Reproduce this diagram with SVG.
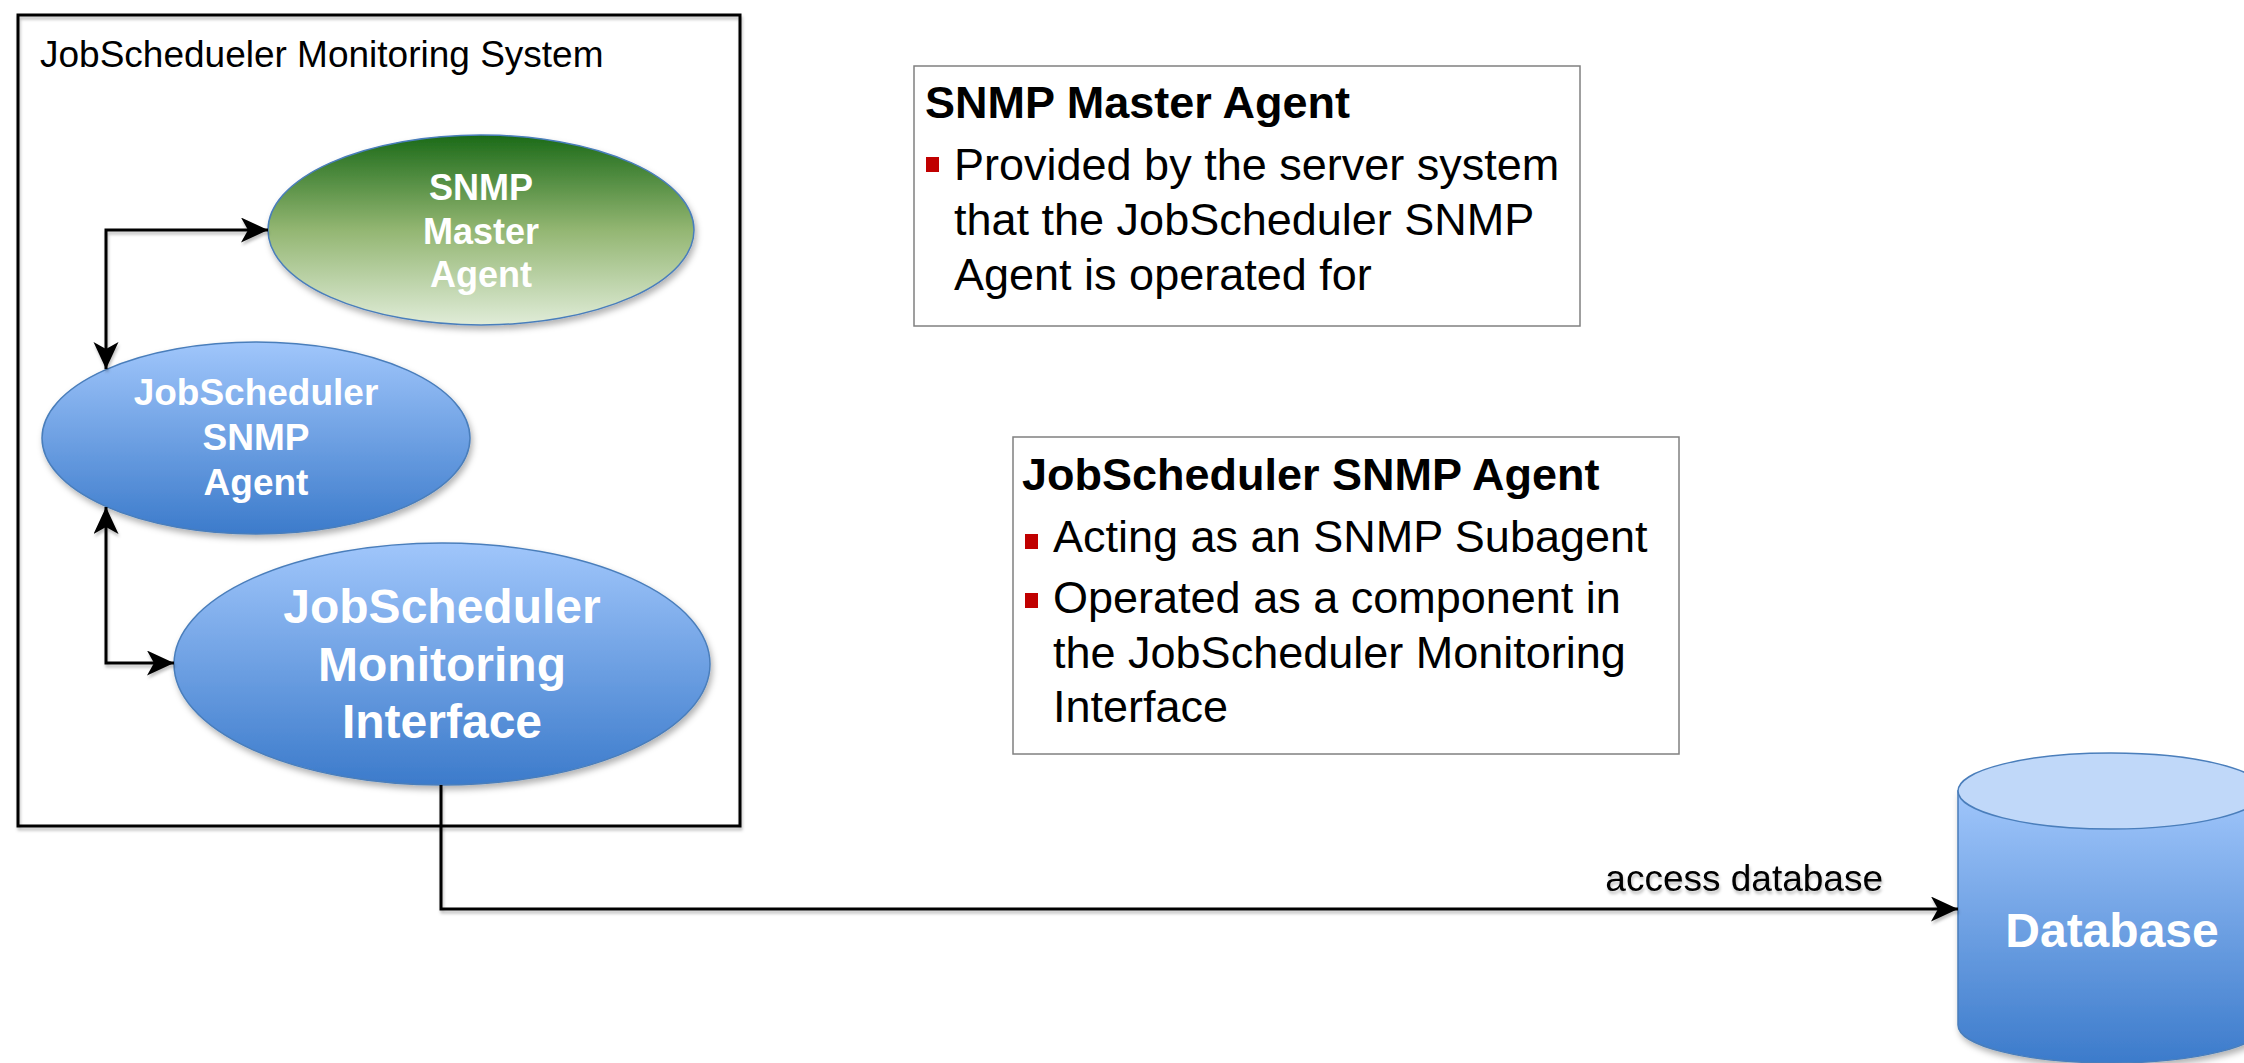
<svg xmlns="http://www.w3.org/2000/svg" width="2244" height="1063" viewBox="0 0 2244 1063">
<defs>
<linearGradient id="gGreen" x1="0" y1="0" x2="0" y2="1">
<stop offset="0" stop-color="#1b6a18"/>
<stop offset="0.5" stop-color="#93b672"/>
<stop offset="1" stop-color="#e0ecd8"/>
</linearGradient>
<linearGradient id="gBlue" x1="0" y1="0" x2="0" y2="1">
<stop offset="0" stop-color="#a0c6fb"/>
<stop offset="1" stop-color="#3c7bcb"/>
</linearGradient>
<filter id="shadow" x="-10%" y="-10%" width="130%" height="130%">
<feDropShadow dx="2" dy="4" stdDeviation="3" flood-color="#000" flood-opacity="0.3"/>
</filter>
<filter id="lshadow" x="-5%" y="-5%" width="110%" height="110%">
<feDropShadow dx="1" dy="3" stdDeviation="1.5" flood-color="#000" flood-opacity="0.25"/>
</filter>
<marker id="arr" markerUnits="userSpaceOnUse" markerWidth="28" markerHeight="26" refX="27" refY="12.5" orient="auto-start-reverse">
<path d="M0,0 L27,12.5 L0,25 L7,12.5 Z" fill="#000"/>
</marker>
</defs>
<style>
.node{stroke:#4a7ebb;stroke-width:1.5}
.wt{font-family:"Liberation Sans",Arial,sans-serif;font-weight:bold;fill:#fff;text-anchor:middle}
.bt{font-family:"Liberation Sans",Arial,sans-serif;fill:#000}
.box{fill:#fff;stroke:#808080;stroke-width:1.5}
.bul{fill:#c00000}
.conn{fill:none;stroke:#000;stroke-width:3}
</style>
<rect width="2244" height="1063" fill="#fff"/>

<g id="system">
<rect x="18" y="15" width="722" height="811" fill="none" stroke="#000" stroke-width="3" filter="url(#lshadow)"/>
<text class="bt" x="40" y="67" font-size="37">JobSchedueler Monitoring System</text>
</g>

<g id="snmp-master-agent">
<ellipse class="node" cx="481" cy="230" rx="213" ry="95" fill="url(#gGreen)" filter="url(#shadow)"/>
<text class="wt" font-size="36"><tspan x="481" y="200">SNMP</tspan><tspan x="481" y="244">Master</tspan><tspan x="481" y="287">Agent</tspan></text>
</g>

<g id="jobscheduler-snmp-agent">
<ellipse class="node" cx="256" cy="438" rx="214" ry="96" fill="url(#gBlue)" filter="url(#shadow)"/>
<text class="wt" font-size="37"><tspan x="256" y="405">JobScheduler</tspan><tspan x="256" y="450">SNMP</tspan><tspan x="256" y="495">Agent</tspan></text>
</g>

<g id="monitoring-interface">
<ellipse class="node" cx="442" cy="664" rx="268" ry="121" fill="url(#gBlue)" filter="url(#shadow)"/>
<text class="wt" font-size="48"><tspan x="442" y="623">JobScheduler</tspan><tspan x="442" y="681">Monitoring</tspan><tspan x="442" y="738">Interface</tspan></text>
</g>

<g id="database">
<path class="node" d="M1958,791 V1025 A153,38 0 0 0 2264,1025 V791 Z" fill="url(#gBlue)" filter="url(#shadow)"/>
<ellipse class="node" cx="2111" cy="791" rx="153" ry="38" fill="#c0d8f9"/>
<text class="wt" x="2112" y="947" font-size="48">Database</text>
</g>

<g id="note-master">
<rect class="box" x="914" y="66" width="666" height="260"/>
<text class="bt" x="925" y="118" font-size="45" font-weight="bold">SNMP Master Agent</text>
<rect class="bul" x="926" y="157" width="13" height="15"/>
<text class="bt" font-size="45"><tspan x="954" y="180">Provided by the server system</tspan><tspan x="954" y="235">that the JobScheduler SNMP</tspan><tspan x="954" y="290">Agent is operated for</tspan></text>
</g>

<g id="note-agent">
<rect class="box" x="1013" y="437" width="666" height="317"/>
<text class="bt" x="1022" y="490" font-size="45" font-weight="bold">JobScheduler SNMP Agent</text>
<rect class="bul" x="1025" y="534" width="13" height="15"/>
<rect class="bul" x="1025" y="593" width="13" height="15"/>
<text class="bt" font-size="45"><tspan x="1053" y="552">Acting as an SNMP Subagent</tspan><tspan x="1053" y="613">Operated as a component in</tspan><tspan x="1053" y="668">the JobScheduler Monitoring</tspan><tspan x="1053" y="722">Interface</tspan></text>
</g>

<g id="connectors" filter="url(#lshadow)">
<path class="conn" d="M268,230 H106 V369" marker-start="url(#arr)" marker-end="url(#arr)"/>
<path class="conn" d="M106,507 V663 H174" marker-start="url(#arr)" marker-end="url(#arr)"/>
<path class="conn" d="M441,785 V909 H1958" marker-end="url(#arr)"/>
<text class="bt" x="1883" y="891" font-size="37" text-anchor="end">access database</text>
</g>
</svg>
